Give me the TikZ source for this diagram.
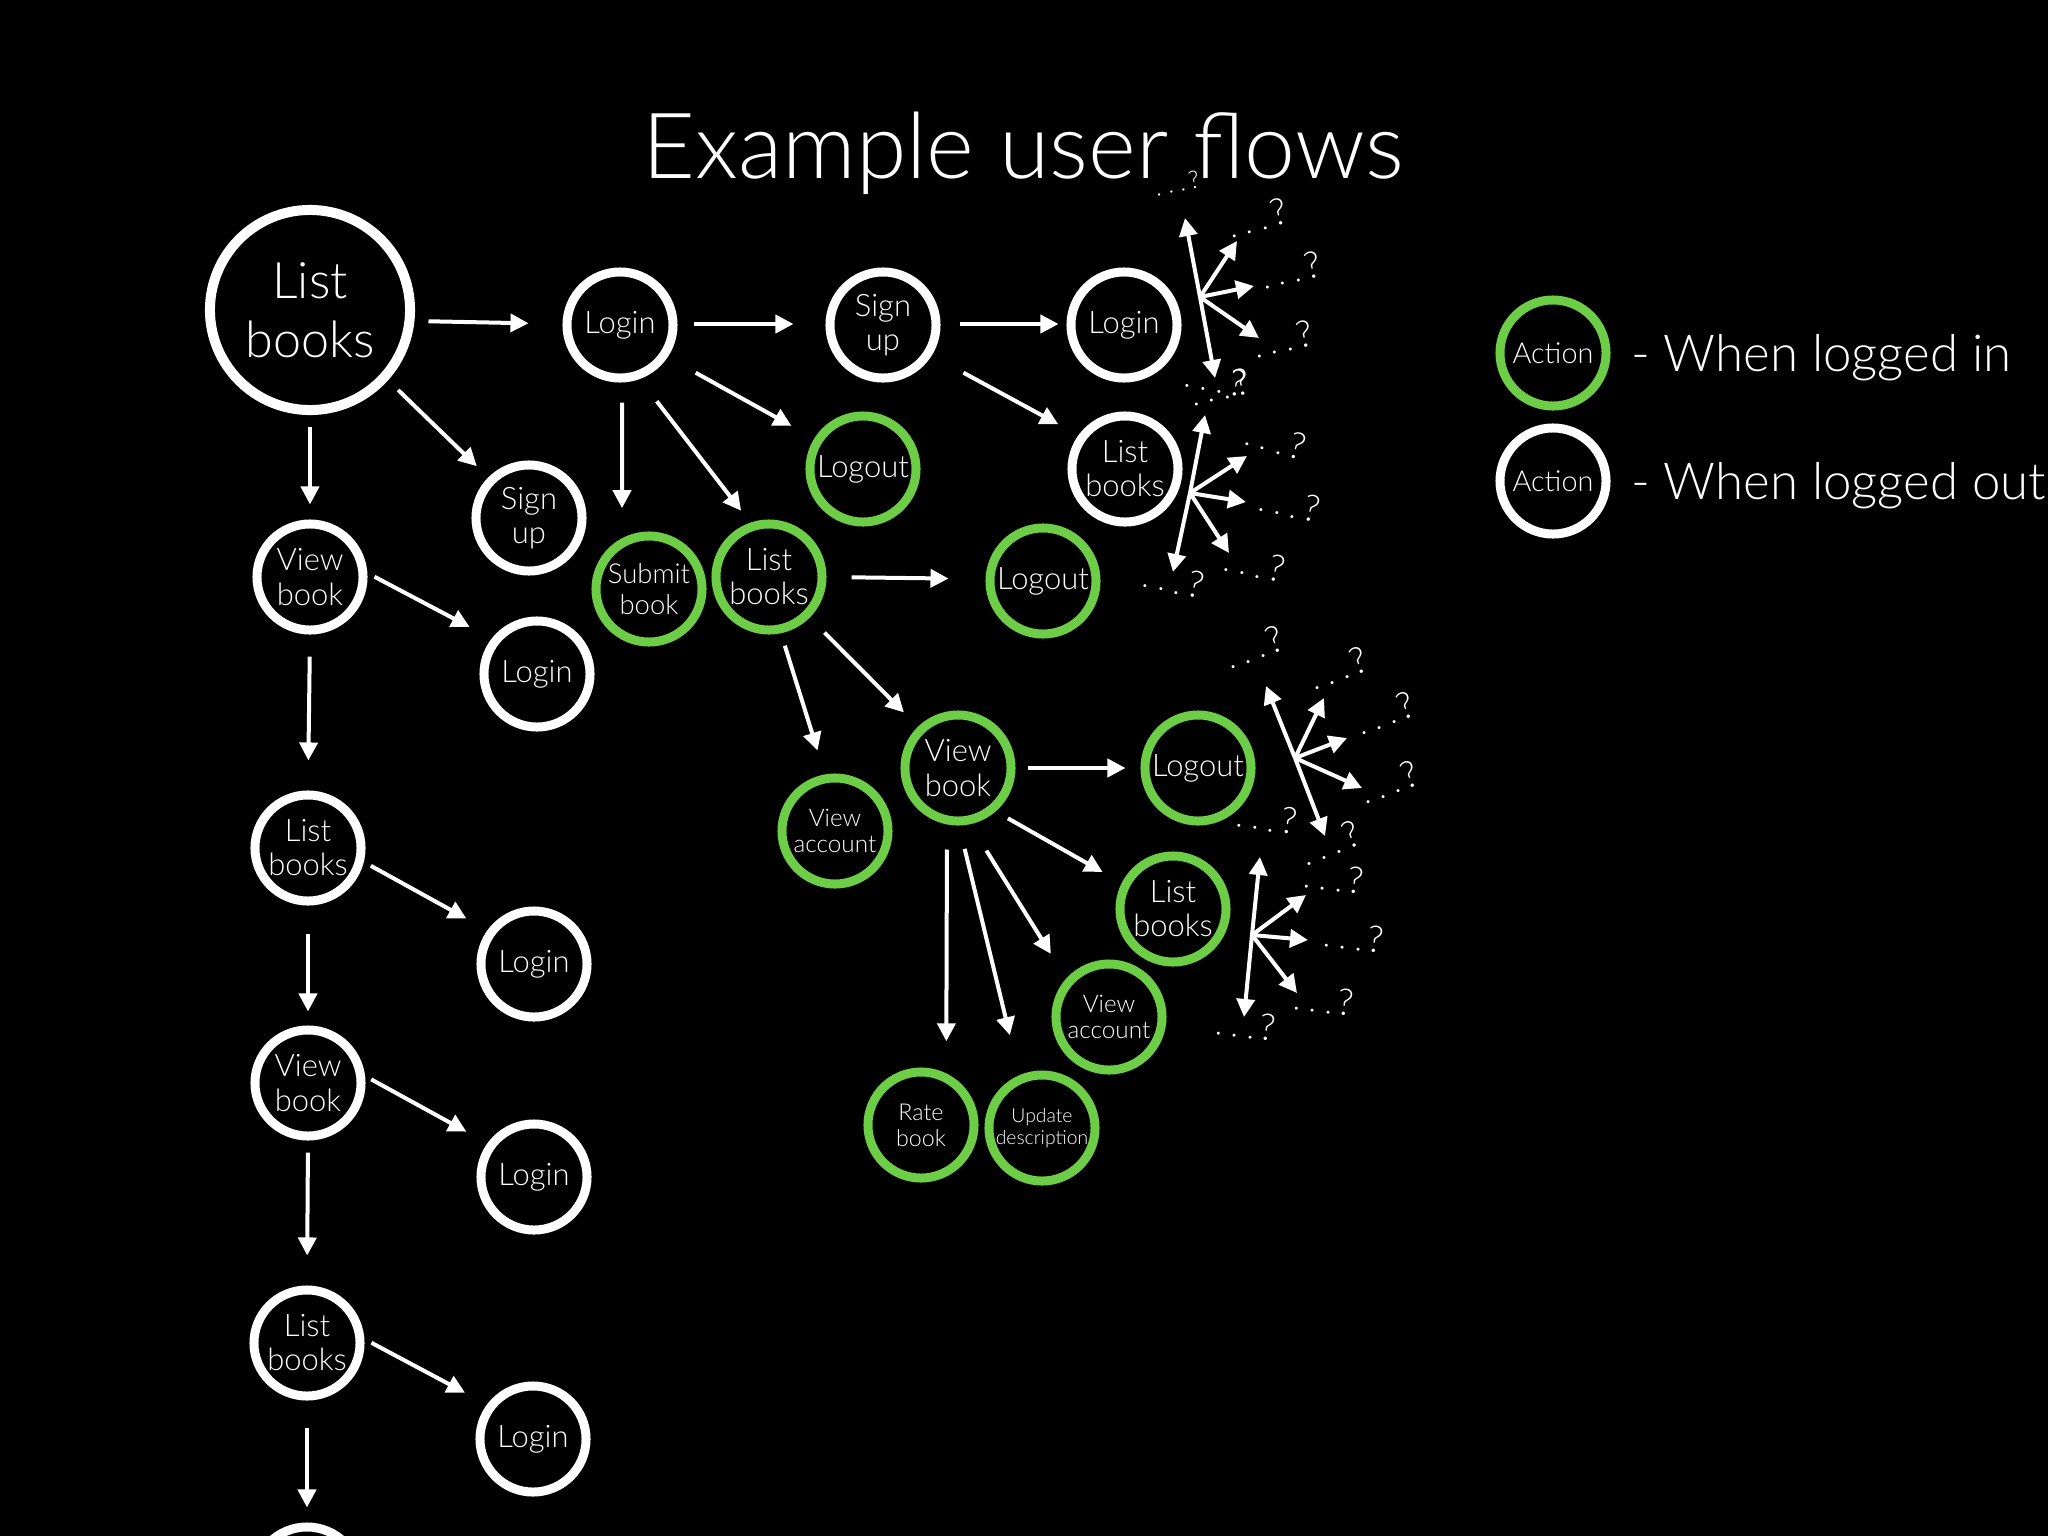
\documentclass[tikz,border=0pt]{standalone}
\usepackage{fontspec}
\setmainfont{Lato Light}
\usetikzlibrary{arrows.meta,positioning}
\definecolor{ingreen}{RGB}{110,205,70}
\newcommand\moreq{. . .\,{\fontsize{10.5}{11}\selectfont ?}}
\frenchspacing

\begin{document}
\begin{tikzpicture}[x=0.01cm,y=-0.01cm,
    loggedout/.style={draw=white,circle,line width=0.09cm,minimum size=1.06cm,inner sep=0pt,text=white,align=center,font=\fontsize{8.8}{9.7}\selectfont},
    loggedin/.style={loggedout,draw=ingreen},
    bignode/.style={loggedout,line width=0.1cm,minimum size=2cm,font=\fontsize{14.3}{16.8}\selectfont},
    flow/.style 2 args={draw=white,line width=0.04cm,-{Triangle[length=0.18cm,width=0.18cm]},shorten <=#1cm,shorten >=#2cm},
    fan/.style={draw=white,line width=0.04cm,-{Triangle[length=0.18cm,width=0.18cm]}},
    qmark/.style={text=white,inner sep=0pt,font=\fontsize{9}{10}\selectfont},
    keytext/.style={text=white,inner sep=0pt,font=\fontsize{14.5}{17}\selectfont}]
  \fill[black] (0,0) rectangle (2048,1536);
  \clip (0,0) rectangle (2048,1536);

  \node[text=white,font=\fontsize{26}{30}\selectfont,anchor=base] (title) at (1023,178) {Example user flows};

  % logged out start
  \node[bignode] (lbA) at (310,310) {List\\books};
  \node[loggedout] (lgA) at (620,325) {Login};
  \node[loggedout] (suA) at (883,325) {Sign\\up};
  \node[loggedout] (lgB) at (1124,325) {Login};
  \node[loggedout] (lbB) at (1125,469) {List\\books};
  \node[loggedin] (loA) at (863,469) {Logout};
  \node[loggedout] (suB) at (529,518) {Sign\\up};

  % left column
  \node[loggedout] (vbA) at (310,577) {View\\book};
  \node[loggedout] (lgC) at (537,674) {Login};
  \node[loggedout] (lbE) at (308,848) {List\\books};
  \node[loggedout] (lgD) at (534,964) {Login};
  \node[loggedout] (vbC) at (308,1083) {View\\book};
  \node[loggedout] (lgE) at (534,1177) {Login};
  \node[loggedout] (lbF) at (307,1343) {List\\books};
  \node[loggedout] (lgF) at (533,1439) {Login};
  \node[loggedout] (nxA) at (307,1580) {};

  % logged in
  \node[loggedin,font=\fontsize{7.8}{8.9}\selectfont] (sbA) at (649,589) {Submit\\book};
  \node[loggedin] (lbC) at (769,577) {List\\books};
  \node[loggedin] (loB) at (1043,581) {Logout};
  \node[loggedin] (vbB) at (958,768) {View\\book};
  \node[loggedin] (loC) at (1198,768) {Logout};
  \node[loggedin,font=\fontsize{6.9}{7.4}\selectfont] (vaA) at (835,831) {View\\account};
  \node[loggedin] (lbD) at (1173,909) {List\\books};
  \node[loggedin,font=\fontsize{6.9}{7.4}\selectfont] (vaB) at (1109,1017) {View\\account};
  \node[loggedin,font=\fontsize{6.6}{7.4}\selectfont] (rbA) at (921,1125) {Rate\\book};
  \node[loggedin,font=\fontsize{5.5}{6.3}\selectfont] (udA) at (1042,1128) {Update\\description};

  \draw[flow={.14}{.34}] (lbA.-6) -- (lgA.179);
  \draw[flow={.16}{.32}] (lgA.1) -- (suA.179);
  \draw[flow={.19}{.08}] (suA.1) -- (lgB.179);
  \draw[flow={.36}{.23}] (suA.-32) -- (lbB.144);
  \draw[flow={.32}{.26}] (lgA.-34) -- (loA.148);
  \draw[flow={.14}{.16}] (lbA.-42) -- (suB.135);
  \draw[flow={.12}{.15}] (lbA.-90) -- (vbA.90);
  \draw[flow={.20}{.30}] (lgA.-88) -- (sbA.118);
  \draw[flow={.28}{.15}] (lgA.-70) -- (lbC.109);
  \draw[flow={.25}{.37}] (lbC.0) -- (loB.178);
  \draw[flow={.21}{.20}] (lbC.-45) -- (vbB.134);
  \draw[flow={.13}{.25}] (lbC.-78) -- (vaA.100);
  \draw[flow={.08}{.25}] (vbA.4) -- (lgC.142);
  \draw[flow={.22}{.30}] (vbA.-90) -- (lbE.90);
  \draw[flow={.08}{.24}] (lbE.-14) -- (lgD.144);
  \draw[flow={.28}{.14}] (lbE.-90) -- (vbC.90);
  \draw[flow={.07}{.24}] (vbC.7) -- (lgE.144);
  \draw[flow={.12}{.30}] (vbC.-90) -- (lbF.90);
  \draw[flow={.08}{.25}] (lbF.4) -- (lgF.143);
  \draw[flow={.27}{.15}] (lbF.-90) -- (nxA.90);
  \draw[flow={.12}{.15}] (vbB.0) -- (loC.180);
  \draw[flow={.14}{.22}] (vbB.-49) -- (lbD.153);
  \draw[flow={.31}{.29}] (vbB.-78) -- (vaB.138);
  \draw[flow={.24}{.41}] (vbB.-89) -- (udA.113);
  \draw[flow={.25}{.32}] (vbB.-101) -- (rbA.64);

  % fans of further actions
  \coordinate (fa) at (1200,297);
  \coordinate (fa1) at (1185,218);
  \coordinate (fa2) at (1237,241);
  \coordinate (fa3) at (1254,286);
  \coordinate (fa4) at (1259,338);
  \coordinate (fa5) at (1215,378);
  \draw[fan] (fa) -- (fa1);
  \draw[fan] (fa) -- (fa2);
  \draw[fan] (fa) -- (fa3);
  \draw[fan] (fa) -- (fa4);
  \draw[fan] (fa) -- (fa5);
  \node[qmark,font=\fontsize{7}{8}\selectfont,rotate=12] (qa1) at (1177,183) {. . .\,?};
  \node[qmark,rotate=15] (qa2) at (1257,218) {\moreq};
  \node[qmark,rotate=12] (qa3) at (1291,270) {\moreq};
  \node[qmark,rotate=12] (qa4) at (1283,339) {\moreq};
  \node[qmark,rotate=-10] (qa5) at (1216,379) {\moreq};
  \node[qmark,rotate=12] (qa6) at (1220,387) {\moreq};

  \coordinate (fb) at (1190,493);
  \coordinate (fb1) at (1205,415);
  \coordinate (fb2) at (1247,456);
  \coordinate (fb3) at (1246,502);
  \coordinate (fb4) at (1229,553);
  \coordinate (fb5) at (1173,572);
  \draw[fan] (fb) -- (fb1);
  \draw[fan] (fb) -- (fb2);
  \draw[fan] (fb) -- (fb3);
  \draw[fan] (fb) -- (fb4);
  \draw[fan] (fb) -- (fb5);
  \node[qmark,rotate=-15] (qb1) at (1276,440) {\moreq};
  \node[qmark,rotate=-12] (qb2) at (1290,504) {\moreq};
  \node[qmark,rotate=-12] (qb3) at (1255,564) {\moreq};
  \node[qmark,rotate=-12] (qb4) at (1174,580) {\moreq};

  \coordinate (fc) at (1295,758);
  \coordinate (fc1) at (1266,686);
  \coordinate (fc2) at (1324,698);
  \coordinate (fc3) at (1347,738);
  \coordinate (fc4) at (1362,788);
  \coordinate (fc5) at (1325,836);
  \draw[fan] (fc) -- (fc1);
  \draw[fan] (fc) -- (fc2);
  \draw[fan] (fc) -- (fc3);
  \draw[fan] (fc) -- (fc4);
  \draw[fan] (fc) -- (fc5);
  \node[qmark,rotate=20] (qc1) at (1254,647) {\moreq};
  \node[qmark,rotate=20] (qc2) at (1338,668) {\moreq};
  \node[qmark,rotate=20] (qc3) at (1385,713) {\moreq};
  \node[qmark,rotate=20] (qc4) at (1389,782) {\moreq};
  \node[qmark,rotate=-8] (qc5) at (1267,818) {\moreq};
  \node[qmark,rotate=22] (qc6) at (1330,843) {\moreq};

  \coordinate (fd) at (1252,935);
  \coordinate (fd1) at (1260,857);
  \coordinate (fd2) at (1306,895);
  \coordinate (fd3) at (1308,940);
  \coordinate (fd4) at (1297,993);
  \coordinate (fd5) at (1244,1017);
  \draw[fan] (fd) -- (fd1);
  \draw[fan] (fd) -- (fd2);
  \draw[fan] (fd) -- (fd3);
  \draw[fan] (fd) -- (fd4);
  \draw[fan] (fd) -- (fd5);
  \node[qmark,rotate=-6] (qd1) at (1334,878) {\moreq};
  \node[qmark,rotate=-6] (qd2) at (1354,937) {\moreq};
  \node[qmark,rotate=-6] (qd3) at (1324,1000) {\moreq};
  \node[qmark,rotate=-6] (qd4) at (1246,1025) {\moreq};

  % key
  \node[loggedin,font=\fontsize{8.2}{9}\selectfont] (keyin) at (1553,353) {Action};
  \node[loggedout,font=\fontsize{8.2}{9}\selectfont] (keyout) at (1553,481) {Action};
  \node[keytext,right=0.2cm of keyin,yshift=-0.05cm] (whenin) {- When logged in};
  \node[keytext,right=0.2cm of keyout,yshift=-0.05cm] (whenout) {- When logged out};
\end{tikzpicture}
\end{document}
